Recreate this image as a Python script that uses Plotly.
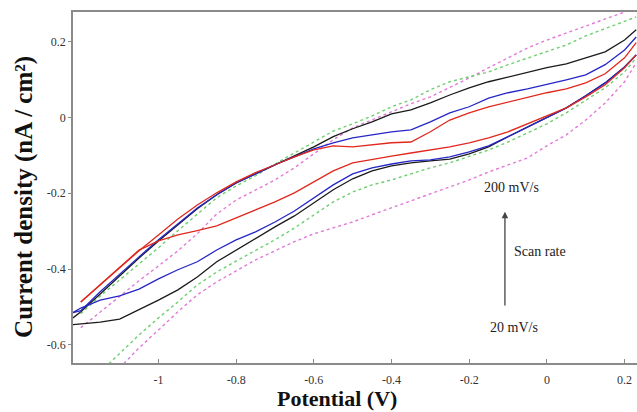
import plotly.graph_objects as go

# Potential grid (V)
potential = [-1.22, -1.20, -1.15, -1.10, -1.05, -1.00, -0.95, -0.90, -0.85, -0.80,
             -0.75, -0.70, -0.65, -0.60, -0.55, -0.50, -0.45, -0.40, -0.35, -0.30,
             -0.25, -0.20, -0.15, -0.10, -0.05, 0.00, 0.05, 0.10, 0.15, 0.20, 0.23]

# Current density (nA/cm2): forward (anodic) and reverse (cathodic) sweeps
red_fwd = [None, -0.487, -0.442, -0.397, -0.352, -0.310, -0.268, -0.231, -0.199, -0.170,
           -0.146, -0.125, -0.104, -0.086, -0.075, -0.078, -0.073, -0.067, -0.065, -0.038,
           -0.007, 0.012, 0.028, 0.041, 0.054, 0.065, 0.075, 0.091, 0.115, 0.157, 0.197]
red_rev = [None, -0.487, -0.442, -0.397, -0.350, -0.326, -0.310, -0.299, -0.286, -0.265,
           -0.244, -0.223, -0.199, -0.170, -0.141, -0.120, -0.110, -0.102, -0.094, -0.086,
           -0.078, -0.067, -0.054, -0.038, -0.017, 0.004, 0.025, 0.054, 0.086, 0.131, 0.165]

blue_fwd = [-0.515, -0.510, -0.460, -0.413, -0.368, -0.323, -0.281, -0.239, -0.204, -0.173,
            -0.149, -0.125, -0.104, -0.083, -0.067, -0.054, -0.046, -0.038, -0.033, -0.012,
            0.012, 0.028, 0.051, 0.065, 0.075, 0.086, 0.099, 0.112, 0.139, 0.178, 0.212]
blue_rev = [-0.515, -0.503, -0.482, -0.471, -0.453, -0.426, -0.402, -0.381, -0.350, -0.323,
            -0.302, -0.276, -0.247, -0.212, -0.178, -0.149, -0.133, -0.123, -0.115, -0.112,
            -0.104, -0.091, -0.075, -0.051, -0.025, -0.001, 0.025, 0.057, 0.091, 0.133, 0.165]

black_fwd = [-0.529, -0.513, -0.466, -0.418, -0.371, -0.326, -0.284, -0.241, -0.204, -0.173,
             -0.149, -0.125, -0.102, -0.078, -0.051, -0.030, -0.012, 0.009, 0.020, 0.038,
             0.059, 0.078, 0.094, 0.107, 0.120, 0.131, 0.141, 0.157, 0.173, 0.204, 0.231]
black_rev = [-0.547, -0.545, -0.540, -0.532, -0.508, -0.482, -0.455, -0.421, -0.381, -0.350,
             -0.318, -0.289, -0.260, -0.226, -0.191, -0.162, -0.141, -0.128, -0.120, -0.115,
             -0.110, -0.096, -0.078, -0.051, -0.025, -0.001, 0.025, 0.057, 0.091, 0.133, 0.165]

green_fwd = [None, -0.518, -0.471, -0.429, -0.387, -0.344, -0.299, -0.255, -0.212, -0.181,
             -0.154, -0.123, -0.094, -0.067, -0.036, -0.017, 0.004, 0.028, 0.046, 0.073,
             0.094, 0.107, 0.120, 0.139, 0.157, 0.173, 0.191, 0.215, 0.234, 0.252, 0.265]
green_rev = [None, None, -0.672, -0.624, -0.574, -0.529, -0.487, -0.442, -0.408, -0.379,
             -0.352, -0.323, -0.292, -0.257, -0.223, -0.197, -0.178, -0.165, -0.149, -0.133,
             -0.120, -0.104, -0.086, -0.065, -0.041, -0.017, 0.012, 0.044, 0.078, 0.120, 0.157]

pink_fwd = [None, -0.555, -0.513, -0.471, -0.431, -0.392, -0.352, -0.307, -0.255, -0.218,
            -0.191, -0.165, -0.133, -0.096, -0.059, -0.028, -0.007, 0.015, 0.036, 0.054,
            0.078, 0.104, 0.131, 0.157, 0.183, 0.204, 0.223, 0.241, 0.260, 0.278, 0.289]
pink_rev = [None, None, None, -0.661, -0.608, -0.561, -0.513, -0.468, -0.434, -0.405,
            -0.376, -0.352, -0.328, -0.307, -0.291, -0.276, -0.257, -0.239, -0.220, -0.202,
            -0.183, -0.165, -0.144, -0.125, -0.107, -0.075, -0.046, -0.007, 0.038, 0.094, 0.144]

x_tickvals = [-1, -0.8, -0.6, -0.4, -0.2, 0, 0.2]
x_ticktext = ["-1", "-0.8", "-0.6", "-0.4", "-0.2", "0", "0.2"]
y_tickvals = [-0.6, -0.4, -0.2, 0, 0.2]
y_ticktext = ["-0.6", "-0.4", "-0.2", "0", "0.2"]

series = [
    ("pink", pink_fwd, pink_rev, "#e27ad8", "dot", 1.4),
    ("green", green_fwd, green_rev, "#6fcf6f", "dot", 1.4),
    ("black", black_fwd, black_rev, "#1a1a1a", "solid", 1.3),
    ("blue", blue_fwd, blue_rev, "#2626c8", "solid", 1.3),
    ("red", red_fwd, red_rev, "#e0281e", "solid", 1.3),
]

SERIF = "Liberation Serif, Times New Roman, serif"

fig = go.Figure()
for name, fwd, rev, color, dash, w in series:
    for ys in (fwd, rev):
        fig.add_trace(go.Scatter(x=potential, y=ys, mode="lines", name=name,
                                 line=dict(color=color, width=w, dash=dash),
                                 showlegend=False, connectgaps=False))

fig.update_layout(
    width=637, height=412,
    margin=dict(l=73, r=0, t=12, b=49),
    paper_bgcolor="white", plot_bgcolor="white",
    showlegend=False,
    xaxis=dict(range=[-1.22, 0.232], tickvals=x_tickvals, ticktext=x_ticktext,
               showgrid=False, zeroline=False, showline=True, linecolor="#8a8a8a",
               linewidth=1.5, mirror=True, ticks="inside", ticklen=4, tickcolor="#8a8a8a",
               tickfont=dict(family=SERIF, size=12, color="#333"),
               ticklabelstandoff=5, automargin=False),
    yaxis=dict(range=[-0.648, 0.278], tickvals=y_tickvals, ticktext=y_ticktext,
               showgrid=False, zeroline=False, showline=True, linecolor="#8a8a8a",
               linewidth=1.5, mirror=False, ticks="outside", ticklen=3, tickcolor="#8a8a8a",
               tickfont=dict(family=SERIF, size=12, color="#333"),
               ticklabelstandoff=0, automargin=False),
    annotations=[
        dict(text="<b>Current density (nA / cm²)</b>", xref="paper", yref="paper",
             x=-0.087, y=0.473, textangle=-90, showarrow=False,
             xanchor="center", yanchor="middle",
             font=dict(family=SERIF, size=25, color="#111")),
        dict(text="<b>Potential (V)</b>", xref="paper", yref="paper",
             x=0.468, y=-0.101, showarrow=False, xanchor="center", yanchor="middle",
             font=dict(family=SERIF, size=22, color="#111")),
        dict(text="200 mV/s", x=-0.092, y=-0.186, showarrow=False,
             font=dict(family=SERIF, size=14, color="#222")),
        dict(text="Scan rate", x=-0.089, y=-0.355, xanchor="left", showarrow=False,
             font=dict(family=SERIF, size=14, color="#222")),
        dict(text="20 mV/s", x=-0.085, y=-0.555, showarrow=False,
             font=dict(family=SERIF, size=14, color="#222")),
        dict(text="", x=-0.108, y=-0.249, ax=-0.108, ay=-0.5, axref="x", ayref="y",
             showarrow=True, arrowhead=2, arrowsize=1, arrowwidth=1.3,
             arrowcolor="#444"),
    ],
)

fig.write_html("out.html", config={"displayModeBar": False},
               post_script="document.body.style.margin='0';")
